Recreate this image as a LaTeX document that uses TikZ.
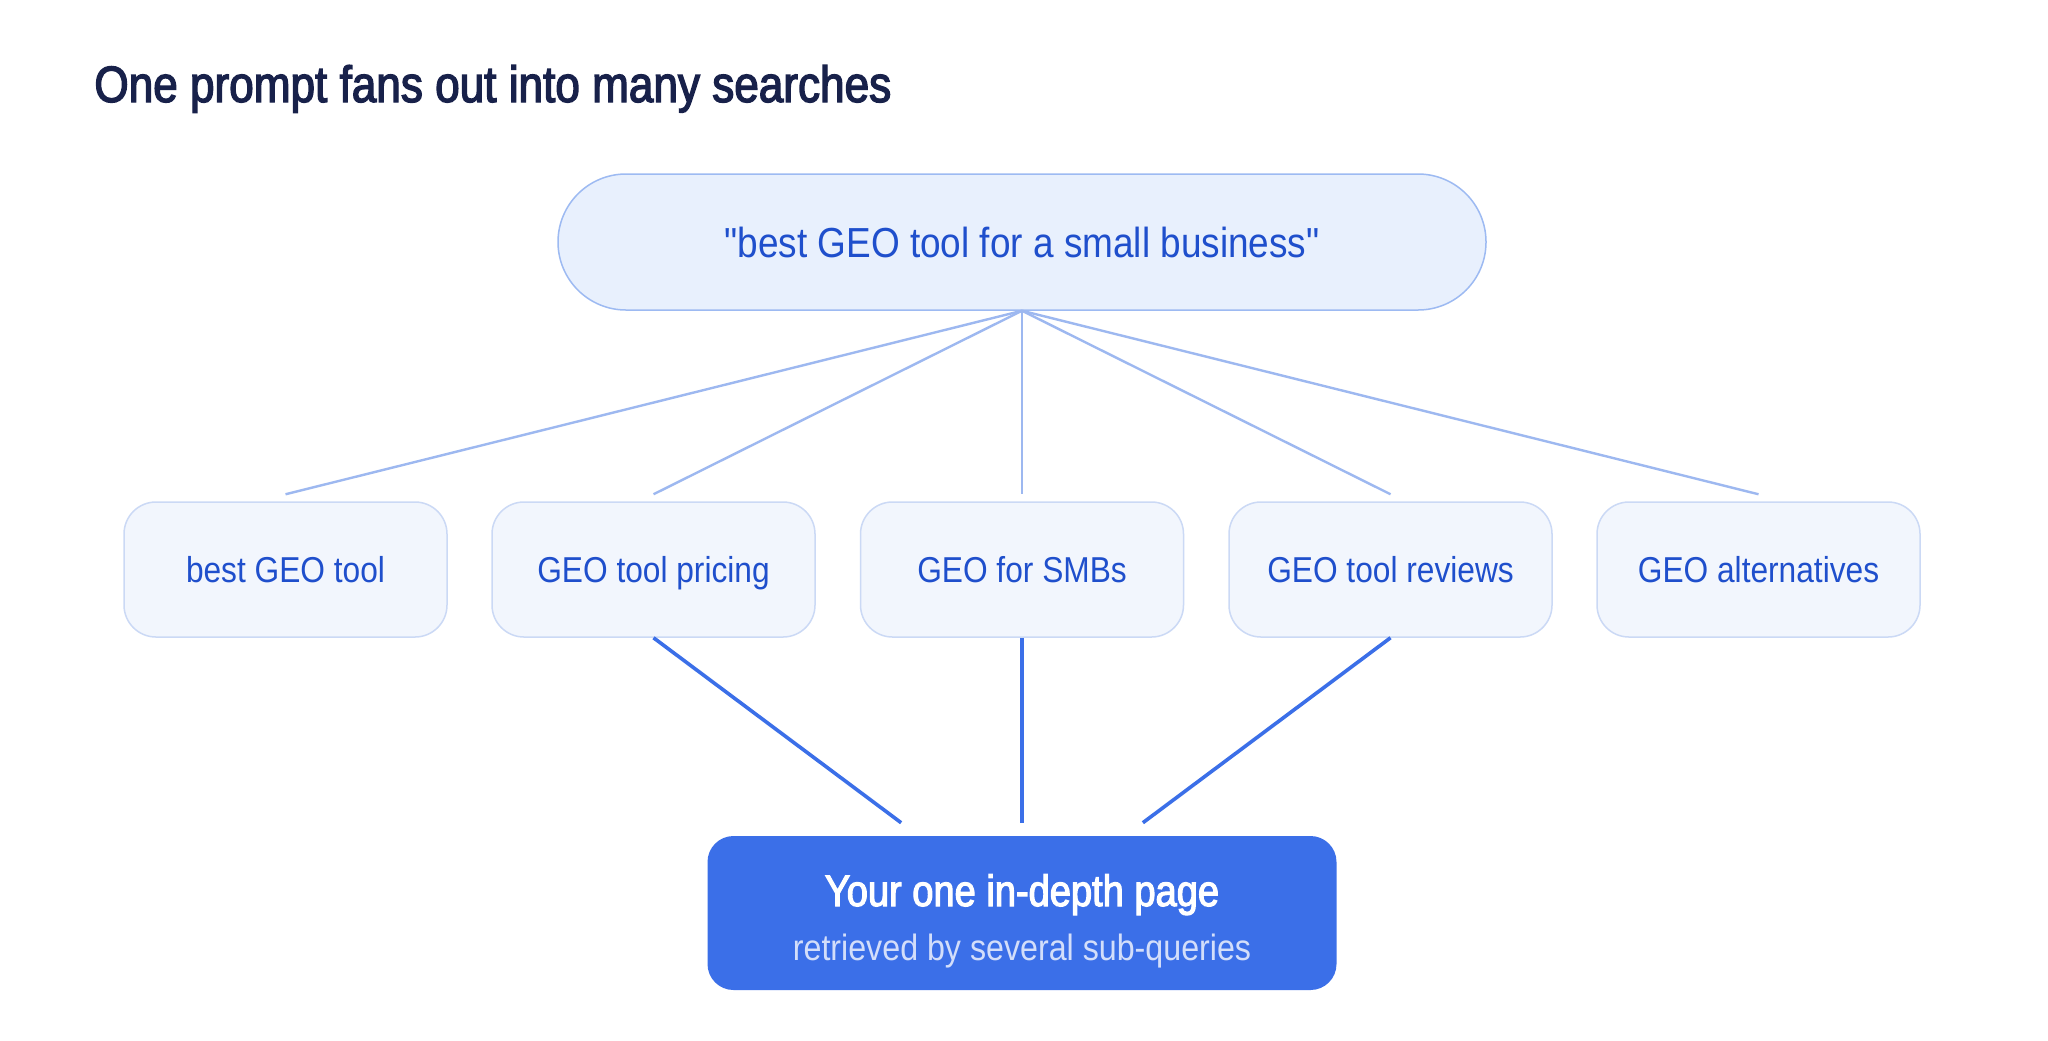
\documentclass[tikz,border=0pt]{standalone}
\usepackage{fontspec}
\setmainfont{Liberation Sans}[FakeStretch=0.88,Ligatures=TeXOff]
\newfontfamily\semib{Liberation Sans}[FakeStretch=0.865,FakeBold=2.6,Ligatures=TeXOff]
\usetikzlibrary{calc}
\definecolor{titlec}{HTML}{18214A}
\definecolor{pillfill}{HTML}{E8F0FD}
\definecolor{pillline}{HTML}{9DBAF2}
\definecolor{boxfill}{HTML}{F2F6FD}
\definecolor{boxline}{HTML}{CBD9F5}
\definecolor{bluetext}{HTML}{1F4FCC}
\definecolor{fanc}{HTML}{9DB8F0}
\definecolor{mainblue}{HTML}{3B6FE8}
\definecolor{subc}{HTML}{D3DEFA}
\tikzset{
  pillbox/.style={draw=pillline, line width=0.75pt, fill=pillfill, rounded corners=34pt,
    minimum width=464pt, minimum height=68pt, inner sep=0pt},
  qbox/.style={draw=boxline, line width=0.75pt, fill=boxfill, rounded corners=16pt,
    minimum width=161.5pt, minimum height=67.5pt, inner sep=0pt},
  pagebox/.style={fill=mainblue, rounded corners=13pt,
    minimum width=314.5pt, minimum height=77pt, inner sep=0pt},
  lbl/.style={inner sep=0pt, anchor=base},
  fan/.style={draw=fanc, line width=1.2pt},
  link/.style={draw=mainblue, line width=1.8pt},
}
\begin{document}
\begin{tikzpicture}[x=0.5pt,y=-0.5pt]
\useasboundingbox[fill=white] (0,0) rectangle (2048,1040);
% title
\node[lbl, anchor=base west, text=titlec, font=\semib\fontsize{25.5pt}{30pt}\selectfont] (title) at (94,102) {One prompt fans out into many searches};
% prompt pill
\node[pillbox] (pill) at (1022,242) {};
\node[lbl, text=bluetext, font=\fontsize{21pt}{25pt}\selectfont] (pilltxt) at (1022,257) {"best GEO tool for a small business"};
% query boxes
\foreach \n/\x/\t in {b1/285.5/best GEO tool, b2/653.5/GEO tool pricing, b3/1022/GEO for SMBs, b4/1390.5/GEO tool reviews, b5/1758.5/GEO alternatives}{
  \node[qbox] (\n) at (\x,569.5) {};
  \node[lbl, text=bluetext, font=\fontsize{18pt}{22pt}\selectfont] (\n t) at (\x,582.5) {\t};
}
% page box
\node[pagebox] (page) at (1022,913) {};
\node[lbl, text=white, font=\semib\fontsize{22pt}{26pt}\selectfont] (pagetitle) at (1022,906) {Your one in-depth page};
\node[lbl, text=subc, font=\fontsize{18.3pt}{22pt}\selectfont] (pagesub) at (1022,960) {retrieved by several sub-queries};
% fan-out lines
\foreach \n in {b1,b2,b3,b4,b5}{
  \draw[fan] (pill.south) -- ($(\n.north)+(0,-7)$);
}
% retrieval lines
\foreach \n in {b2,b3,b4}{
  \draw[link] (\n.south) -- ($(\n.south)!0.672!(page.center)$);
}
\end{tikzpicture}
\end{document}
